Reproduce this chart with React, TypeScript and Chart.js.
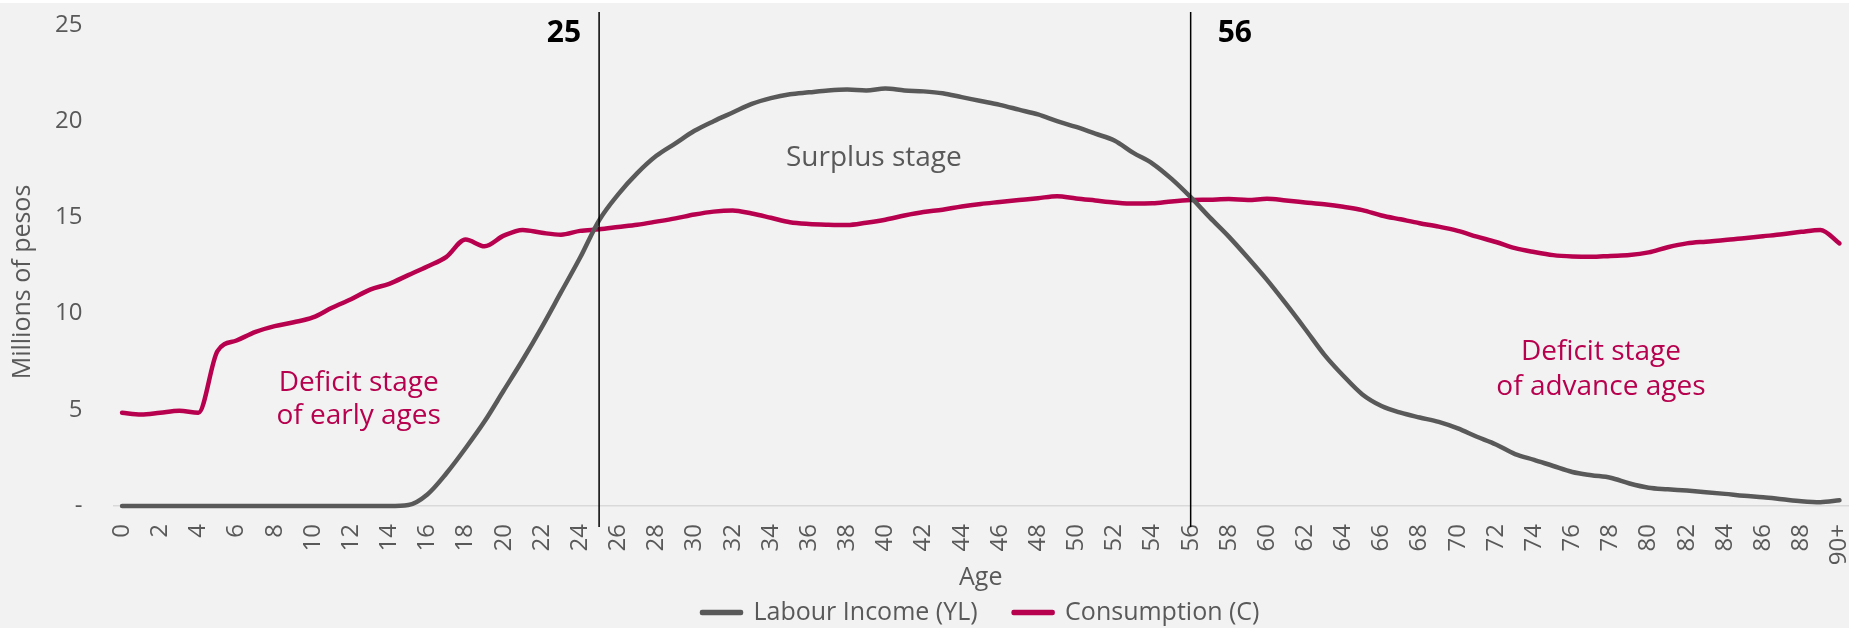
import React, { useEffect, useRef } from 'react';
import { Chart, registerables } from 'chart.js';

Chart.register(...registerables);

// ---------- data ----------
const ageLabels: string[] = [...Array.from({ length: 90 }, (_, i) => String(i)), '90+'];

const labourIncome: number[] = [
  0, 0, 0, 0, 0, 0, 0, 0, 0, 0,
  0, 0, 0, 0, 0, 0.05, 0.6, 1.7, 3.0, 4.4,
  6.0, 7.6, 9.3, 11.1, 12.9, 14.85, 16.2, 17.3, 18.2, 18.85,
  19.5, 20.0, 20.45, 20.9, 21.2, 21.4, 21.5, 21.6, 21.65, 21.6,
  21.7, 21.6, 21.55, 21.45, 21.25, 21.05, 20.85, 20.6, 20.35, 20.0,
  19.7, 19.35, 19.0, 18.35, 17.8, 17.0, 16.05, 15.0, 14.0, 12.9,
  11.75, 10.5, 9.2, 7.87, 6.77, 5.8, 5.2, 4.85, 4.6, 4.37,
  4.03, 3.6, 3.2, 2.7, 2.4, 2.08, 1.77, 1.6, 1.47, 1.17,
  0.95, 0.87, 0.8, 0.72, 0.63, 0.53, 0.45, 0.35, 0.25, 0.2,
  0.3,
];

const consumption: number[] = [
  4.85, 4.75, 4.85, 4.95, 4.85, 8.05, 8.6, 9.05, 9.35, 9.55,
  9.8, 10.3, 10.75, 11.25, 11.55, 12.0, 12.45, 12.95, 13.85, 13.5,
  14.05, 14.35, 14.2, 14.1, 14.3, 14.38, 14.5, 14.62, 14.78, 14.95,
  15.15, 15.3, 15.36, 15.2, 14.98, 14.75, 14.66, 14.62, 14.6, 14.72,
  14.88, 15.1, 15.28, 15.4, 15.57, 15.7, 15.8, 15.9, 16.0, 16.1,
  15.98, 15.88, 15.78, 15.72, 15.73, 15.83, 15.9, 15.92, 15.95, 15.9,
  15.97, 15.88, 15.78, 15.68, 15.55, 15.38, 15.1, 14.9, 14.7, 14.52,
  14.3, 14.0, 13.72, 13.4, 13.2, 13.04, 12.97, 12.95, 13.0, 13.04,
  13.18, 13.45, 13.65, 13.74, 13.82, 13.92, 14.02, 14.12, 14.25, 14.35,
  13.65,
];

const seriesNames: string[] = ['Labour Income (YL)', 'Consumption (C)'];
const stageBoundaries: number[] = [25, 56];
const stageTexts = {
  surplus: ['Surplus stage'],
  early: ['Deficit stage', 'of early ages'],
  advance: ['Deficit stage', 'of advance ages'],
};
const yAxisTitle = 'Millions of pesos';
const xAxisTitle = 'Age';

// ---------- style ----------
const GRAY = '#595959';
const BERRY = '#B7004E';
const FONT = "'Open Sans', sans-serif";

const stagePlugin = {
  id: 'stagePlugin',
  afterDatasetsDraw(chart: any) {
    const { ctx, chartArea, scales } = chart;
    const x = scales.x;
    const y = scales.y;
    const x0 = x.getPixelForValue(0);
    const step = x.getPixelForValue(1) - x0;
    const xAt = (v: number) => x0 + v * step;

    ctx.save();
    // vertical boundary lines
    ctx.strokeStyle = '#000000';
    ctx.lineWidth = 1.5;
    stageBoundaries.forEach((age) => {
      const px = x.getPixelForValue(age);
      ctx.beginPath();
      ctx.moveTo(px, chartArea.top - 13);
      ctx.lineTo(px, chartArea.bottom + 21);
      ctx.stroke();
    });

    // boundary labels
    ctx.fillStyle = '#000000';
    ctx.font = `bold 30px ${FONT}`;
    ctx.textBaseline = 'alphabetic';
    ctx.textAlign = 'right';
    ctx.fillText(String(stageBoundaries[0]), x.getPixelForValue(stageBoundaries[0]) - 18, chartArea.top + 16.7);
    ctx.textAlign = 'left';
    ctx.fillText(String(stageBoundaries[1]), x.getPixelForValue(stageBoundaries[1]) + 27, chartArea.top + 16.7);

    // stage notes
    ctx.textAlign = 'center';
    ctx.font = `28px ${FONT}`;
    ctx.fillStyle = GRAY;
    ctx.fillText(stageTexts.surplus[0], xAt(39.4), y.getPixelForValue(17.69));

    ctx.fillStyle = BERRY;
    ctx.fillText(stageTexts.early[0], xAt(12.4), y.getPixelForValue(5.98));
    ctx.fillText(stageTexts.early[1], xAt(12.4), y.getPixelForValue(4.26));
    ctx.fillText(stageTexts.advance[0], xAt(77.5), y.getPixelForValue(7.61));
    ctx.fillText(stageTexts.advance[1], xAt(77.5), y.getPixelForValue(5.77));

    // y axis title
    ctx.fillStyle = GRAY;
    ctx.font = `25px ${FONT}`;
    ctx.textBaseline = 'middle';
    ctx.translate(23, (chartArea.top + chartArea.bottom) / 2 + 16.5);
    ctx.rotate(-Math.PI / 2);
    ctx.fillText(yAxisTitle, 0, 0);
    ctx.restore();
  },
};

export default function App() {
  const canvasRef = useRef<HTMLCanvasElement | null>(null);

  useEffect(() => {
    if (!canvasRef.current) return;
    const chart = new Chart(canvasRef.current, {
      type: 'line',
      data: {
        labels: ageLabels,
        datasets: [
          {
            label: seriesNames[0],
            data: labourIncome,
            borderColor: GRAY,
            backgroundColor: GRAY,
            borderWidth: 4.5,
            pointRadius: 0,
            cubicInterpolationMode: 'monotone',
            borderCapStyle: 'round',
            borderJoinStyle: 'round',
            clip: false,
          },
          {
            label: seriesNames[1],
            data: consumption,
            borderColor: BERRY,
            backgroundColor: BERRY,
            borderWidth: 4.5,
            pointRadius: 0,
            cubicInterpolationMode: 'monotone',
            borderCapStyle: 'round',
            borderJoinStyle: 'round',
            clip: false,
          },
        ],
      },
      options: {
        responsive: false,
        animation: false,
        layout: { padding: { top: 22, left: 0, right: 0, bottom: 0 } },
        plugins: {
          tooltip: { enabled: false },
          legend: {
            position: 'bottom',
            fullSize: false,
            maxHeight: 64,
            labels: {
              boxWidth: 39,
              boxHeight: 1,
              padding: 36,
              color: GRAY,
              font: { family: FONT, size: 25 },
            },
          },
        },
        scales: {
          x: {
            type: 'category',
            offset: true,
            grid: { display: false, drawTicks: false },
            border: { display: false },
            ticks: {
              autoSkip: false,
              minRotation: 90,
              maxRotation: 90,
              padding: 18,
              color: GRAY,
              font: { family: FONT, size: 24 },
              callback: (_v: any, idx: number) => (idx % 2 === 0 ? ageLabels[idx] : null),
            },
            title: {
              display: true,
              text: xAxisTitle,
              color: GRAY,
              font: { family: FONT, size: 25 },
              padding: { top: 0, bottom: -29 },
            },
            afterFit: (scale: any) => {
              scale.height = 58;
              scale.paddingLeft = 0;
              scale.paddingRight = 0;
            },
          },
          y: {
            min: 0,
            max: 25,
            grid: {
              drawTicks: false,
              lineWidth: 1.5,
              color: (c: any) => (c.tick && c.tick.value === 0 ? '#D9D9D9' : 'rgba(0,0,0,0)'),
            },
            border: { display: false },
            ticks: {
              stepSize: 5,
              padding: 30,
              color: GRAY,
              font: { family: FONT, size: 24 },
              callback: (v: any) => (Number(v) === 0 ? '-' : String(v)),
            },
            afterFit: (scale: any) => {
              scale.width = 112.5;
              scale.paddingTop = 0;
              scale.paddingBottom = 0;
            },
          },
        },
      },
      plugins: [stagePlugin],
    } as any);
    return () => chart.destroy();
  }, []);

  return (
    <div
      style={{
        position: 'absolute',
        left: 0,
        top: 3,
        width: 1849,
        height: 625,
        background: '#F2F2F2',
      }}
    >
      <canvas ref={canvasRef} width={1849} height={625} style={{ display: 'block' }} />
    </div>
  );
}
